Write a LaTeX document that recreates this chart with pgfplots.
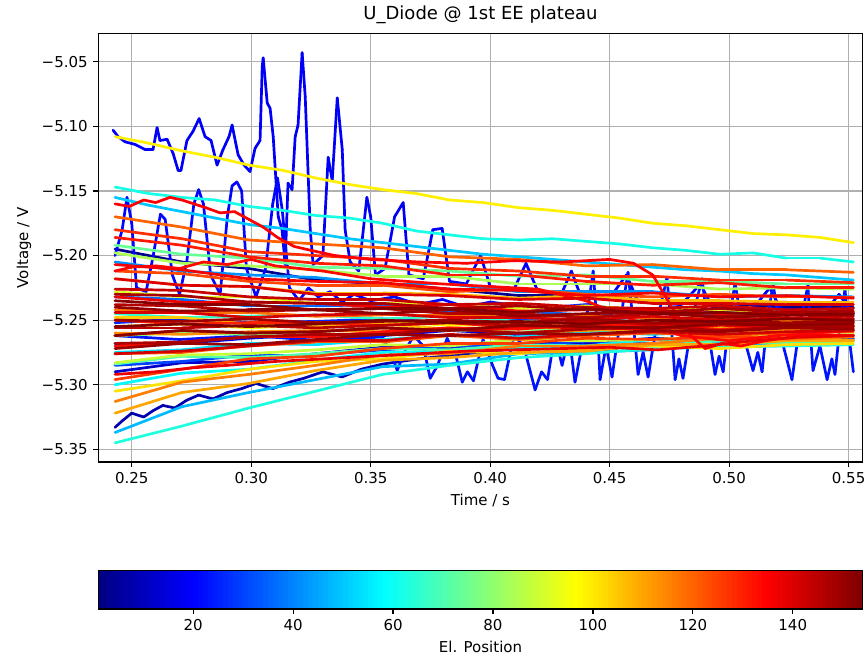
\documentclass[border=0pt]{standalone}
\usepackage{fontspec}
\setmainfont{DejaVu Sans}
\usepackage{pgfplots}
\pgfplotsset{compat=1.18}

% one line per electrode, coloured by its position through the jet colormap
\pgfplotsset{ln/.style={mesh, shader=flat, point meta=#1, line width=1.35pt, line join=round, line cap=round}}
\newcommand{\fs}{\fontsize{7.5}{9}\selectfont}

\begin{document}
\fs
\begin{tikzpicture}
\begin{axis}[
  at={(49.15pt,99.5pt)}, anchor=south west,
  scale only axis, width=382.2pt, height=214.35pt,
  xmin=0.2360, xmax=0.5559, ymin=-5.3598, ymax=-5.028,
  xtick={0.25,0.3,0.35,0.4,0.45,0.5,0.55},
  xticklabels={0.25,0.30,0.35,0.40,0.45,0.50,0.55},
  ytick={-5.35,-5.3,-5.25,-5.2,-5.15,-5.1,-5.05},
  yticklabels={−5.35,−5.30,−5.25,−5.20,−5.15,−5.10,−5.05},
  tick pos=left, tick align=outside, major tick length=2.6pt,
  tick style={black, line width=0.6pt},
  grid=major, major grid style={color=black!31, line width=0.6pt},
  axis line style={line width=0.6pt},
  title={U\_Diode @ 1st EE plateau},
  title style={font=\fontsize{9}{10}\selectfont, at={(0.5,1)}, anchor=base, yshift=0.7pt},
  xlabel={Time / s}, ylabel={Voltage / V},
  tick label style={font=\fs}, label style={font=\fs},
  /pgf/number format/assume math mode=true,
  colormap/jet, point meta min=1, point meta max=154,
  colorbar horizontal,
  colorbar sampled,
  colorbar shift/.style={},
  colorbar style={
    samples=154,
    at={(parent axis.south west)}, anchor=north west, yshift=-54.35pt,
    scale only axis, width=382.2pt, height=19.15pt,
    xtick={20,40,60,80,100,120,140},
    xticklabels={20,40,60,80,100,120,140},
    xtick pos=bottom, xticklabel pos=lower, ytick=\empty,
    tick align=outside, major tick length=2.6pt,
    tick style={black, line width=0.6pt},
    axis line style={line width=0.6pt},
    xlabel={El. Position},
    tick label style={font=\fs}, label style={font=\fs},
  },
]
\addplot[ln=3] coordinates {(0.243,-5.195)(0.271,-5.205)(0.299,-5.210)(0.327,-5.219)(0.355,-5.222)(0.383,-5.226)(0.412,-5.231)(0.440,-5.231)(0.468,-5.236)(0.496,-5.237)(0.524,-5.240)(0.552,-5.240)};
\addplot[ln=8] coordinates {(0.243,-5.333)(0.246,-5.328)(0.250,-5.322)(0.255,-5.325)(0.259,-5.320)(0.263,-5.316)(0.268,-5.318)(0.273,-5.312)(0.278,-5.308)(0.284,-5.311)(0.290,-5.306)(0.296,-5.303)(0.302,-5.299)(0.309,-5.303)(0.316,-5.298)(0.322,-5.295)(0.330,-5.290)(0.338,-5.294)(0.346,-5.288)(0.355,-5.284)(0.370,-5.280)(0.390,-5.276)(0.410,-5.272)(0.440,-5.270)(0.470,-5.268)(0.500,-5.266)(0.530,-5.266)(0.552,-5.264)};
\addplot[ln=12] coordinates {(0.243,-5.290)(0.271,-5.283)(0.299,-5.282)(0.327,-5.276)(0.355,-5.271)(0.383,-5.271)(0.412,-5.268)(0.440,-5.268)(0.468,-5.264)(0.496,-5.265)(0.524,-5.262)(0.552,-5.262)};
\addplot[ln=15] coordinates {(0.243,-5.268)(0.271,-5.268)(0.299,-5.264)(0.327,-5.261)(0.355,-5.262)(0.383,-5.258)(0.412,-5.261)(0.440,-5.258)(0.468,-5.256)(0.496,-5.259)(0.524,-5.256)(0.552,-5.256)};
% noisy electrode with the tall spikes
\addplot[ln=19] coordinates {(0.2422,-5.103)(0.2443,-5.108)(0.2472,-5.112)(0.2514,-5.114)(0.2556,-5.118)(0.2589,-5.118)(0.2606,-5.101)(0.2618,-5.111)(0.2648,-5.110)(0.2673,-5.121)(0.2694,-5.134)(0.2706,-5.134)(0.2731,-5.111)(0.2756,-5.104)(0.2782,-5.094)(0.2807,-5.108)(0.2832,-5.111)(0.2857,-5.130)(0.2882,-5.118)(0.2907,-5.108)(0.2920,-5.099)(0.2945,-5.122)(0.2970,-5.130)(0.2995,-5.135)(0.3016,-5.117)(0.3037,-5.111)(0.3046,-5.054)(0.3050,-5.047)(0.3067,-5.082)(0.3079,-5.086)(0.3092,-5.108)(0.3113,-5.170)(0.3129,-5.180)(0.3142,-5.207)(0.3154,-5.144)(0.3171,-5.149)(0.3184,-5.108)(0.3196,-5.099)(0.3213,-5.043)(0.3226,-5.077)(0.3247,-5.180)(0.3259,-5.207)(0.3300,-5.200)(0.3322,-5.124)(0.3339,-5.142)(0.3360,-5.078)(0.3381,-5.118)(0.3393,-5.180)(0.3414,-5.205)(0.3450,-5.212)(0.3484,-5.155)(0.3500,-5.170)(0.3520,-5.215)(0.3560,-5.210)(0.3600,-5.170)(0.3636,-5.159)(0.3660,-5.215)(0.3720,-5.218)(0.3760,-5.180)(0.3799,-5.179)(0.3830,-5.220)(0.3900,-5.222)(0.3960,-5.200)(0.4000,-5.224)(0.4100,-5.226)(0.4150,-5.206)(0.4200,-5.228)(0.4300,-5.229)(0.4340,-5.212)(0.4380,-5.232)(0.4500,-5.233)(0.4570,-5.215)(0.4620,-5.236)(0.4800,-5.238)(0.4880,-5.222)(0.4930,-5.240)(0.5100,-5.241)(0.5170,-5.225)(0.5220,-5.243)(0.5400,-5.244)(0.5460,-5.230)(0.5520,-5.245)};
\addplot[ln=21] coordinates {(0.243,-5.200)(0.246,-5.180)(0.248,-5.155)(0.250,-5.175)(0.252,-5.225)(0.256,-5.228)(0.259,-5.200)(0.262,-5.168)(0.264,-5.172)(0.267,-5.215)(0.270,-5.230)(0.273,-5.205)(0.276,-5.160)(0.278,-5.149)(0.280,-5.160)(0.283,-5.215)(0.287,-5.230)(0.290,-5.170)(0.292,-5.146)(0.294,-5.143)(0.296,-5.150)(0.298,-5.210)(0.302,-5.232)(0.306,-5.210)(0.309,-5.160)(0.311,-5.140)(0.313,-5.165)(0.316,-5.225)(0.320,-5.235)(0.324,-5.225)(0.328,-5.232)(0.333,-5.228)(0.338,-5.236)(0.343,-5.230)(0.350,-5.235)(0.360,-5.232)(0.370,-5.238)(0.380,-5.234)(0.390,-5.240)(0.400,-5.236)(0.420,-5.241)(0.440,-5.238)(0.460,-5.243)(0.480,-5.240)(0.500,-5.244)(0.520,-5.241)(0.552,-5.245)};
\addplot[ln=23] coordinates {(0.243,-5.262)(0.270,-5.265)(0.300,-5.262)(0.330,-5.266)(0.355,-5.263)(0.359,-5.278)(0.3611,-5.289)(0.364,-5.275)(0.368,-5.262)(0.372,-5.270)(0.3749,-5.295)(0.378,-5.285)(0.382,-5.264)(0.386,-5.280)(0.3883,-5.298)(0.3905,-5.290)(0.393,-5.297)(0.397,-5.265)(0.401,-5.285)(0.4033,-5.295)(0.406,-5.296)(0.410,-5.262)(0.414,-5.270)(0.4188,-5.304)(0.4215,-5.290)(0.424,-5.296)(0.427,-5.262)(0.4301,-5.285)(0.433,-5.262)(0.4355,-5.298)(0.4395,-5.260)(0.4431,-5.212)(0.445,-5.260)(0.446,-5.296)(0.4485,-5.270)(0.451,-5.294)(0.4545,-5.250)(0.4577,-5.213)(0.460,-5.255)(0.4619,-5.292)(0.464,-5.275)(0.4661,-5.294)(0.470,-5.250)(0.474,-5.217)(0.476,-5.260)(0.4774,-5.296)(0.479,-5.280)(0.4807,-5.295)(0.485,-5.245)(0.4887,-5.218)(0.4915,-5.262)(0.4941,-5.292)(0.4958,-5.278)(0.4975,-5.290)(0.500,-5.250)(0.5025,-5.221)(0.506,-5.262)(0.510,-5.289)(0.512,-5.275)(0.5138,-5.290)(0.516,-5.250)(0.5184,-5.222)(0.522,-5.265)(0.5263,-5.296)(0.5295,-5.255)(0.533,-5.223)(0.534,-5.260)(0.5351,-5.289)(0.538,-5.270)(0.541,-5.296)(0.543,-5.280)(0.5443,-5.292)(0.547,-5.245)(0.5485,-5.226)(0.550,-5.260)(0.552,-5.290)};
\addplot[ln=26] coordinates {(0.243,-5.252)(0.271,-5.249)(0.299,-5.252)(0.327,-5.251)(0.355,-5.249)(0.383,-5.252)(0.412,-5.249)(0.440,-5.250)(0.468,-5.251)(0.496,-5.248)(0.524,-5.250)(0.552,-5.249)};
\addplot[ln=30] coordinates {(0.243,-5.285)(0.271,-5.282)(0.299,-5.277)(0.327,-5.277)(0.355,-5.273)(0.383,-5.270)(0.412,-5.271)(0.440,-5.266)(0.468,-5.268)(0.496,-5.266)(0.524,-5.267)(0.552,-5.265)};
\addplot[ln=36] coordinates {(0.243,-5.232)(0.271,-5.234)(0.299,-5.239)(0.327,-5.239)(0.355,-5.238)(0.383,-5.243)(0.412,-5.243)(0.440,-5.246)(0.468,-5.243)(0.496,-5.246)(0.524,-5.245)(0.552,-5.246)};
\addplot[ln=42] coordinates {(0.243,-5.205)(0.271,-5.212)(0.299,-5.215)(0.327,-5.217)(0.355,-5.222)(0.383,-5.222)(0.412,-5.228)(0.440,-5.228)(0.468,-5.228)(0.496,-5.232)(0.524,-5.231)(0.552,-5.232)};
\addplot[ln=48] coordinates {(0.243,-5.337)(0.271,-5.317)(0.299,-5.306)(0.327,-5.296)(0.355,-5.286)(0.383,-5.284)(0.412,-5.276)(0.440,-5.275)(0.468,-5.273)(0.496,-5.268)(0.524,-5.268)(0.552,-5.266)};
\addplot[ln=50] coordinates {(0.243,-5.155)(0.257,-5.161)(0.271,-5.166)(0.285,-5.171)(0.299,-5.176)(0.313,-5.179)(0.327,-5.183)(0.341,-5.187)(0.355,-5.190)(0.369,-5.193)(0.383,-5.196)(0.397,-5.199)(0.412,-5.201)(0.426,-5.203)(0.440,-5.205)(0.454,-5.207)(0.468,-5.209)(0.482,-5.211)(0.496,-5.212)(0.510,-5.214)(0.524,-5.215)(0.538,-5.217)(0.552,-5.219)};
\addplot[ln=54] coordinates {(0.243,-5.275)(0.271,-5.273)(0.299,-5.268)(0.327,-5.269)(0.355,-5.265)(0.383,-5.262)(0.412,-5.263)(0.440,-5.259)(0.468,-5.261)(0.496,-5.259)(0.524,-5.260)(0.552,-5.258)};
\addplot[ln=58] coordinates {(0.243,-5.300)(0.271,-5.291)(0.299,-5.288)(0.327,-5.281)(0.355,-5.275)(0.383,-5.274)(0.412,-5.271)(0.440,-5.270)(0.468,-5.265)(0.496,-5.266)(0.524,-5.262)(0.552,-5.262)};
\addplot[ln=62] coordinates {(0.243,-5.147)(0.257,-5.152)(0.271,-5.155)(0.285,-5.157)(0.299,-5.162)(0.313,-5.165)(0.327,-5.169)(0.341,-5.171)(0.355,-5.175)(0.369,-5.181)(0.383,-5.184)(0.397,-5.187)(0.412,-5.188)(0.426,-5.187)(0.440,-5.189)(0.454,-5.191)(0.468,-5.194)(0.482,-5.196)(0.496,-5.199)(0.510,-5.198)(0.524,-5.202)(0.538,-5.202)(0.552,-5.205)};
\addplot[ln=63] coordinates {(0.243,-5.345)(0.271,-5.332)(0.299,-5.318)(0.327,-5.305)(0.355,-5.292)(0.383,-5.285)(0.412,-5.279)(0.440,-5.276)(0.468,-5.272)(0.496,-5.271)(0.524,-5.270)(0.552,-5.269)};
\addplot[ln=66] coordinates {(0.243,-5.245)(0.271,-5.248)(0.299,-5.247)(0.327,-5.246)(0.355,-5.249)(0.383,-5.247)(0.412,-5.251)(0.440,-5.249)(0.468,-5.248)(0.496,-5.252)(0.524,-5.250)(0.552,-5.250)};
\addplot[ln=70] coordinates {(0.243,-5.284)(0.271,-5.278)(0.299,-5.279)(0.327,-5.276)(0.355,-5.272)(0.383,-5.273)(0.412,-5.269)(0.440,-5.270)(0.468,-5.270)(0.496,-5.266)(0.524,-5.268)(0.552,-5.266)};
\addplot[ln=74] coordinates {(0.243,-5.192)(0.271,-5.199)(0.299,-5.202)(0.327,-5.209)(0.355,-5.210)(0.383,-5.212)(0.412,-5.216)(0.440,-5.215)(0.468,-5.220)(0.496,-5.220)(0.524,-5.222)(0.552,-5.222)};
\addplot[ln=78] coordinates {(0.243,-5.262)(0.271,-5.260)(0.299,-5.261)(0.327,-5.259)(0.355,-5.256)(0.383,-5.258)(0.412,-5.257)(0.440,-5.258)(0.468,-5.255)(0.496,-5.256)(0.524,-5.254)(0.552,-5.255)};
\addplot[ln=84] coordinates {(0.243,-5.198)(0.271,-5.206)(0.299,-5.208)(0.327,-5.211)(0.355,-5.216)(0.383,-5.216)(0.412,-5.222)(0.440,-5.222)(0.468,-5.222)(0.496,-5.226)(0.524,-5.225)(0.552,-5.226)};
\addplot[ln=88] coordinates {(0.243,-5.283)(0.271,-5.277)(0.299,-5.276)(0.327,-5.273)(0.355,-5.269)(0.383,-5.270)(0.412,-5.265)(0.440,-5.266)(0.468,-5.265)(0.496,-5.262)(0.524,-5.263)(0.552,-5.261)};
\addplot[ln=92] coordinates {(0.243,-5.228)(0.271,-5.232)(0.299,-5.232)(0.327,-5.237)(0.355,-5.237)(0.383,-5.238)(0.412,-5.241)(0.440,-5.239)(0.468,-5.242)(0.496,-5.242)(0.524,-5.244)(0.552,-5.243)};
\addplot[ln=96] coordinates {(0.243,-5.255)(0.271,-5.253)(0.299,-5.256)(0.327,-5.254)(0.355,-5.251)(0.383,-5.254)(0.412,-5.253)(0.440,-5.255)(0.468,-5.251)(0.496,-5.253)(0.524,-5.251)(0.552,-5.252)};
\addplot[ln=99] coordinates {(0.243,-5.108)(0.257,-5.113)(0.271,-5.119)(0.285,-5.124)(0.299,-5.130)(0.313,-5.134)(0.327,-5.140)(0.341,-5.145)(0.355,-5.149)(0.369,-5.152)(0.383,-5.157)(0.397,-5.159)(0.412,-5.163)(0.426,-5.165)(0.440,-5.168)(0.454,-5.171)(0.468,-5.175)(0.482,-5.177)(0.496,-5.180)(0.510,-5.183)(0.524,-5.184)(0.538,-5.186)(0.552,-5.190)};
\addplot[ln=101] coordinates {(0.243,-5.305)(0.271,-5.297)(0.299,-5.288)(0.327,-5.282)(0.355,-5.280)(0.383,-5.274)(0.412,-5.276)(0.440,-5.272)(0.468,-5.270)(0.496,-5.272)(0.524,-5.269)(0.552,-5.268)};
\addplot[ln=104] coordinates {(0.243,-5.248)(0.271,-5.248)(0.299,-5.253)(0.327,-5.254)(0.355,-5.253)(0.383,-5.257)(0.412,-5.255)(0.440,-5.257)(0.468,-5.259)(0.496,-5.256)(0.524,-5.259)(0.552,-5.258)};
\addplot[ln=107] coordinates {(0.243,-5.218)(0.271,-5.223)(0.299,-5.224)(0.327,-5.229)(0.355,-5.229)(0.383,-5.230)(0.412,-5.233)(0.440,-5.231)(0.468,-5.235)(0.496,-5.235)(0.524,-5.236)(0.552,-5.236)};
\addplot[ln=110] coordinates {(0.243,-5.322)(0.271,-5.306)(0.299,-5.299)(0.327,-5.289)(0.355,-5.281)(0.383,-5.279)(0.412,-5.275)(0.440,-5.274)(0.468,-5.269)(0.496,-5.269)(0.524,-5.266)(0.552,-5.266)};
\addplot[ln=113] coordinates {(0.243,-5.260)(0.271,-5.261)(0.299,-5.259)(0.327,-5.258)(0.355,-5.259)(0.383,-5.256)(0.412,-5.260)(0.440,-5.258)(0.468,-5.256)(0.496,-5.259)(0.524,-5.257)(0.552,-5.257)};
\addplot[ln=116] coordinates {(0.243,-5.313)(0.271,-5.298)(0.299,-5.292)(0.327,-5.285)(0.355,-5.277)(0.383,-5.276)(0.412,-5.270)(0.440,-5.270)(0.468,-5.268)(0.496,-5.264)(0.524,-5.265)(0.552,-5.263)};
\addplot[ln=118] coordinates {(0.243,-5.242)(0.271,-5.244)(0.299,-5.244)(0.327,-5.247)(0.355,-5.246)(0.383,-5.246)(0.412,-5.248)(0.440,-5.246)(0.468,-5.249)(0.496,-5.249)(0.524,-5.250)(0.552,-5.249)};
\addplot[ln=120] coordinates {(0.243,-5.170)(0.271,-5.178)(0.299,-5.188)(0.327,-5.191)(0.355,-5.194)(0.383,-5.201)(0.412,-5.203)(0.440,-5.208)(0.468,-5.207)(0.496,-5.211)(0.524,-5.211)(0.552,-5.213)};
\addplot[ln=122] coordinates {(0.243,-5.276)(0.271,-5.275)(0.299,-5.270)(0.327,-5.267)(0.355,-5.267)(0.383,-5.262)(0.412,-5.265)(0.440,-5.262)(0.468,-5.260)(0.496,-5.262)(0.524,-5.260)(0.552,-5.259)};
\addplot[ln=124] coordinates {(0.243,-5.212)(0.271,-5.214)(0.299,-5.220)(0.327,-5.223)(0.355,-5.223)(0.383,-5.228)(0.412,-5.226)(0.440,-5.230)(0.468,-5.232)(0.496,-5.230)(0.524,-5.232)(0.552,-5.232)};
\addplot[ln=126] coordinates {(0.243,-5.296)(0.271,-5.288)(0.299,-5.280)(0.327,-5.278)(0.355,-5.272)(0.383,-5.268)(0.412,-5.268)(0.440,-5.264)(0.468,-5.265)(0.496,-5.263)(0.524,-5.264)(0.552,-5.262)};
\addplot[ln=128] coordinates {(0.243,-5.180)(0.271,-5.187)(0.299,-5.197)(0.327,-5.200)(0.355,-5.203)(0.383,-5.210)(0.412,-5.212)(0.440,-5.216)(0.468,-5.216)(0.496,-5.219)(0.524,-5.219)(0.552,-5.221)};
\addplot[ln=130] coordinates {(0.243,-5.250)(0.271,-5.253)(0.299,-5.252)(0.327,-5.252)(0.355,-5.254)(0.383,-5.252)(0.412,-5.256)(0.440,-5.254)(0.468,-5.254)(0.496,-5.257)(0.524,-5.255)(0.552,-5.255)};
\addplot[ln=131] coordinates {(0.243,-5.186)(0.271,-5.192)(0.299,-5.201)(0.327,-5.206)(0.355,-5.208)(0.383,-5.215)(0.412,-5.215)(0.440,-5.220)(0.468,-5.223)(0.496,-5.221)(0.524,-5.225)(0.552,-5.225)};
\addplot[ln=133] coordinates {(0.243,-5.270)(0.271,-5.267)(0.299,-5.263)(0.327,-5.263)(0.355,-5.259)(0.383,-5.256)(0.412,-5.257)(0.440,-5.253)(0.468,-5.255)(0.496,-5.253)(0.524,-5.254)(0.552,-5.252)};
\addplot[ln=134] coordinates {(0.243,-5.212)(0.250,-5.209)(0.260,-5.208)(0.270,-5.210)(0.280,-5.205)(0.290,-5.207)(0.300,-5.203)(0.310,-5.208)(0.330,-5.212)(0.350,-5.218)(0.380,-5.222)(0.400,-5.224)(0.420,-5.226)(0.440,-5.235)(0.460,-5.250)(0.480,-5.262)(0.500,-5.266)(0.520,-5.262)(0.552,-5.258)};
\addplot[ln=135] coordinates {(0.243,-5.160)(0.249,-5.162)(0.255,-5.157)(0.260,-5.159)(0.266,-5.155)(0.271,-5.157)(0.276,-5.160)(0.281,-5.163)(0.287,-5.167)(0.293,-5.166)(0.299,-5.172)(0.305,-5.178)(0.311,-5.186)(0.318,-5.193)(0.325,-5.196)(0.335,-5.200)(0.350,-5.203)(0.370,-5.205)(0.390,-5.206)(0.410,-5.204)(0.430,-5.205)(0.450,-5.203)(0.460,-5.206)(0.468,-5.215)(0.476,-5.240)(0.484,-5.262)(0.490,-5.272)(0.497,-5.268)(0.505,-5.270)(0.515,-5.266)(0.530,-5.262)(0.552,-5.262)};
\addplot[ln=136] coordinates {(0.243,-5.207)(0.271,-5.211)(0.299,-5.218)(0.327,-5.220)(0.355,-5.221)(0.383,-5.226)(0.412,-5.227)(0.440,-5.231)(0.468,-5.229)(0.496,-5.232)(0.524,-5.231)(0.552,-5.233)};
\addplot[ln=137] coordinates {(0.243,-5.232)(0.271,-5.236)(0.299,-5.236)(0.327,-5.237)(0.355,-5.240)(0.383,-5.238)(0.412,-5.243)(0.440,-5.242)(0.468,-5.242)(0.496,-5.245)(0.524,-5.244)(0.552,-5.244)};
\addplot[ln=138] coordinates {(0.243,-5.292)(0.260,-5.290)(0.275,-5.287)(0.290,-5.285)(0.310,-5.282)(0.330,-5.280)(0.350,-5.278)(0.370,-5.276)(0.390,-5.274)(0.410,-5.273)(0.430,-5.272)(0.450,-5.271)(0.470,-5.273)(0.490,-5.270)(0.510,-5.266)(0.530,-5.263)(0.552,-5.262)};
\addplot[ln=139] coordinates {(0.243,-5.262)(0.271,-5.258)(0.299,-5.260)(0.327,-5.259)(0.355,-5.256)(0.383,-5.258)(0.412,-5.255)(0.440,-5.256)(0.468,-5.257)(0.496,-5.254)(0.524,-5.255)(0.552,-5.254)};
\addplot[ln=140] coordinates {(0.243,-5.218)(0.271,-5.223)(0.299,-5.224)(0.327,-5.230)(0.355,-5.230)(0.383,-5.231)(0.412,-5.234)(0.440,-5.233)(0.468,-5.237)(0.496,-5.237)(0.524,-5.238)(0.552,-5.238)};
\addplot[ln=141] coordinates {(0.243,-5.244)(0.271,-5.244)(0.299,-5.248)(0.327,-5.246)(0.355,-5.245)(0.383,-5.248)(0.412,-5.248)(0.440,-5.250)(0.468,-5.247)(0.496,-5.250)(0.524,-5.248)(0.552,-5.249)};
\addplot[ln=142] coordinates {(0.243,-5.276)(0.271,-5.274)(0.299,-5.270)(0.327,-5.266)(0.355,-5.266)(0.383,-5.261)(0.412,-5.264)(0.440,-5.261)(0.468,-5.259)(0.496,-5.261)(0.524,-5.259)(0.552,-5.258)};
\addplot[ln=143] coordinates {(0.243,-5.226)(0.271,-5.227)(0.299,-5.232)(0.327,-5.234)(0.355,-5.234)(0.383,-5.238)(0.412,-5.237)(0.440,-5.240)(0.468,-5.241)(0.496,-5.239)(0.524,-5.242)(0.552,-5.241)};
\addplot[ln=145] coordinates {(0.243,-5.256)(0.271,-5.256)(0.299,-5.254)(0.327,-5.256)(0.355,-5.254)(0.383,-5.252)(0.412,-5.254)(0.440,-5.251)(0.468,-5.253)(0.496,-5.252)(0.524,-5.253)(0.552,-5.252)};
\addplot[ln=146] coordinates {(0.243,-5.238)(0.271,-5.239)(0.299,-5.243)(0.327,-5.242)(0.355,-5.241)(0.383,-5.245)(0.412,-5.245)(0.440,-5.248)(0.468,-5.245)(0.496,-5.247)(0.524,-5.246)(0.552,-5.247)};
\addplot[ln=147] coordinates {(0.243,-5.268)(0.271,-5.267)(0.299,-5.263)(0.327,-5.261)(0.355,-5.261)(0.383,-5.257)(0.412,-5.260)(0.440,-5.257)(0.468,-5.255)(0.496,-5.258)(0.524,-5.255)(0.552,-5.255)};
\addplot[ln=148] coordinates {(0.243,-5.230)(0.271,-5.231)(0.299,-5.236)(0.327,-5.237)(0.355,-5.237)(0.383,-5.241)(0.412,-5.239)(0.440,-5.242)(0.468,-5.244)(0.496,-5.241)(0.524,-5.244)(0.552,-5.243)};
\addplot[ln=149] coordinates {(0.243,-5.250)(0.271,-5.251)(0.299,-5.249)(0.327,-5.252)(0.355,-5.251)(0.383,-5.250)(0.412,-5.252)(0.440,-5.249)(0.468,-5.252)(0.496,-5.251)(0.524,-5.252)(0.552,-5.251)};
\addplot[ln=150] coordinates {(0.243,-5.272)(0.271,-5.268)(0.299,-5.269)(0.327,-5.265)(0.355,-5.261)(0.383,-5.262)(0.412,-5.260)(0.440,-5.261)(0.468,-5.258)(0.496,-5.259)(0.524,-5.256)(0.552,-5.257)};
\addplot[ln=151] coordinates {(0.243,-5.240)(0.271,-5.243)(0.299,-5.242)(0.327,-5.242)(0.355,-5.245)(0.383,-5.242)(0.412,-5.247)(0.440,-5.245)(0.468,-5.244)(0.496,-5.248)(0.524,-5.246)(0.552,-5.246)};
\addplot[ln=152] coordinates {(0.243,-5.262)(0.271,-5.258)(0.299,-5.260)(0.327,-5.259)(0.355,-5.256)(0.383,-5.258)(0.412,-5.254)(0.440,-5.255)(0.468,-5.256)(0.496,-5.253)(0.524,-5.254)(0.552,-5.253)};
\addplot[ln=153] coordinates {(0.243,-5.235)(0.271,-5.238)(0.299,-5.238)(0.327,-5.242)(0.355,-5.241)(0.383,-5.241)(0.412,-5.244)(0.440,-5.241)(0.468,-5.245)(0.496,-5.244)(0.524,-5.246)(0.552,-5.245)};
\addplot[ln=154] coordinates {(0.243,-5.255)(0.271,-5.253)(0.299,-5.255)(0.327,-5.253)(0.355,-5.250)(0.383,-5.252)(0.412,-5.251)(0.440,-5.253)(0.468,-5.250)(0.496,-5.251)(0.524,-5.249)(0.552,-5.250)};
\end{axis}
\pgfresetboundingbox
\useasboundingbox (0,0) rectangle (432pt,330.5pt);
\end{tikzpicture}
\end{document}
